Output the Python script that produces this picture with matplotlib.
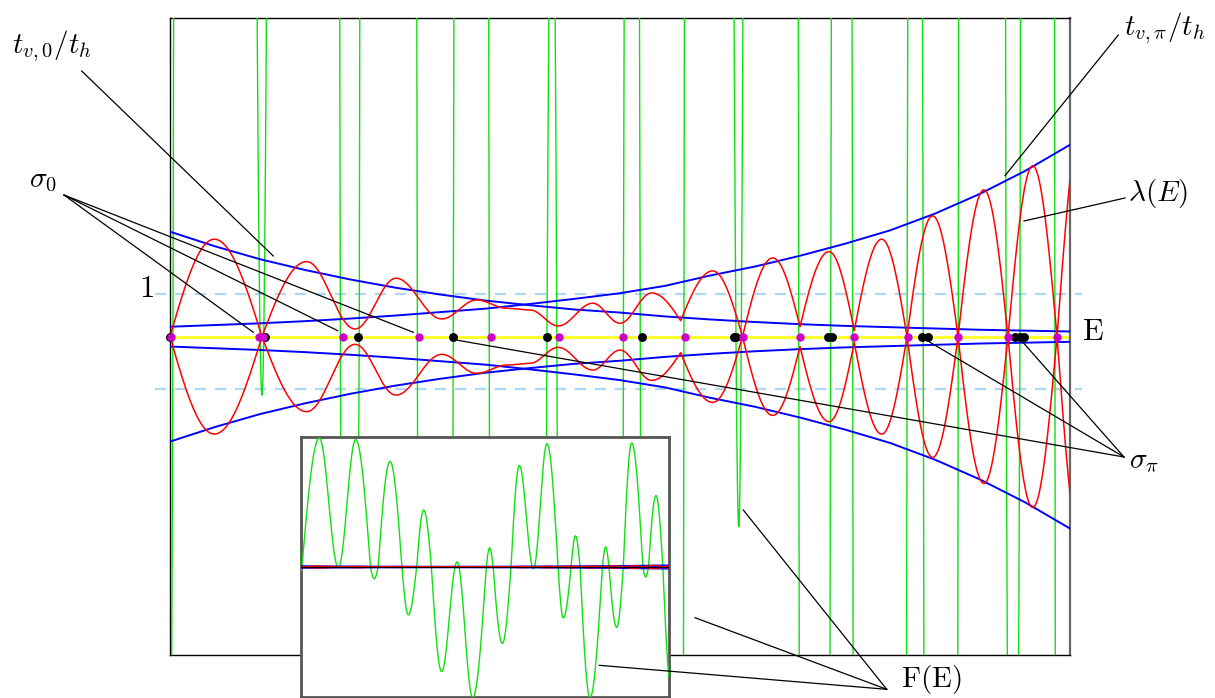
import numpy as np
import matplotlib
matplotlib.use("Agg")
import matplotlib.pyplot as plt
from matplotlib.lines import Line2D

plt.rcParams["mathtext.fontset"] = "cm"
plt.rcParams["font.family"] = ["DejaVu Serif"]

# ---------------- data ----------------
# energy axis runs 0..10 across the plot; y unit = the dashed "1" level
E_grid = [0.0, 0.5, 1.0, 1.5, 2.0, 2.5, 3.0, 3.5, 4.0, 4.5, 5.0,
          5.5, 6.0, 6.5, 7.0, 7.5, 8.0, 8.5, 9.0, 9.5, 10.0]
t_v0 = [2.44, 2.10, 1.80, 1.55, 1.33, 1.14, 0.98, 0.84, 0.73, 0.63, 0.56,
        0.47, 0.40, 0.34, 0.29, 0.25, 0.22, 0.19, 0.16, 0.14, 0.12]
t_vpi = [0.23, 0.27, 0.31, 0.36, 0.42, 0.49, 0.57, 0.65, 0.76, 0.88, 1.01,
         1.18, 1.42, 1.63, 1.88, 2.16, 2.47, 2.86, 3.32, 3.85, 4.46]

# lambda(E): extrema and zeros
lam_E = [0.0, 0.492, 1.022, 1.519, 2.056, 2.511, 3.019, 3.408, 3.741, 4.0,
         4.314, 4.697, 5.0, 5.352, 5.674, 6.03, 6.361, 6.697, 7.0, 7.322,
         7.603, 7.908, 8.189, 8.474, 8.756, 9.044, 9.311, 9.586, 9.856, 10.14]
lam_V = [0.0, 2.265, 0.0, -1.744, -0.179, -1.358, -0.412, -0.853, -0.660, -0.621,
         -0.249, -0.777, -0.312, -1.016, -0.372, -1.528, 0.0, 1.830, 0.233, 1.977,
         0.140, 2.265, 0.0, -2.807, 0.0, 3.412, 0.0, -3.970, 0.0, 5.1]
# minima of |lambda| that look V-shaped
lam_cusp_E = [5.674, 7.0, 7.603]

# F(E): extrema and zeros
F_E = [0.0, 0.033, 0.506, 1.022, 1.492, 1.892, 1.998, 2.103, 2.425, 2.748,
       2.922, 3.148, 3.339, 3.548, 3.827, 4.246, 4.669, 5.037, 5.13, 5.226,
       5.475, 5.711, 5.936, 6.32, 6.687, 6.986, 7.131, 7.341, 7.46, 7.586,
       7.855, 8.189, 8.28, 8.37, 8.579, 8.759, 8.986, 9.289, 9.367, 9.444,
       9.647, 9.833, 10.05]
F_V = [-12.0, 0.0, 328.0, -1.36, 324.0, 0.0, -29.8, 0.0, 268.6, 0.0,
       -121.9, 0.0, 145.0, 0.0, -266.0, 12.8, -332.0, 0.0, 48.6, 0.0,
       -194.4, 0.0, 258.4, -4.42, 313.8, 0.0, -129.6, 0.0, 79.3, 0.0,
       -332.0, 0.0, 51.2, 0.0, -153.5, 0.0, 315.5, 0.0, -25.6, 0.0,
       181.6, 0.0, -300.0]

sigma0_E = [0.01, 0.989, 1.033, 1.919, 2.770, 3.567, 4.319, 5.037, 5.719,
            6.370, 7.0, 7.603, 8.197, 8.759, 9.314, 9.852]
sigmapi_E = [0.0, 1.056, 2.092, 3.141, 4.189, 5.241, 6.266, 6.292, 7.309,
             7.361, 8.353, 8.424, 9.389, 9.439, 9.489]

dash_levels = [1.0, -1.22]


def smooth(kx, ky, x, cusps=()):
    """Smooth curve through extrema; zeros and listed cusps are V-shaped knots."""
    cus = [(v == 0) or any(abs(e - c) < 1e-9 for c in cusps)
           for e, v in zip(kx, ky)]
    y = np.full_like(x, np.nan)
    for i in range(len(kx) - 1):
        x0, x1, y0, y1 = kx[i], kx[i + 1], ky[i], ky[i + 1]
        m = (x >= x0) & (x <= x1)
        t = (x[m] - x0) / (x1 - x0)
        if cus[i] and not cus[i + 1]:
            y[m] = y0 + (y1 - y0) * np.sin(np.pi / 2 * t)
        elif cus[i + 1] and not cus[i]:
            y[m] = y1 + (y0 - y1) * np.cos(np.pi / 2 * t)
        else:
            y[m] = y0 + (y1 - y0) * (1 - np.cos(np.pi * t)) / 2
    return y


W, H = 1215, 698
fig = plt.figure(figsize=(W / 100, H / 100), dpi=100)


def fx(x):
    return x / W


def fy(y):
    return 1 - y / H


GREEN = "#10e010"
RED = "#ff0000"
BLUE = "#0000ff"
MAG = "#cc00cc"

x = np.linspace(0, 10.2, 40000)
lam = smooth(lam_E, lam_V, x, lam_cusp_E)
F = smooth(F_E, F_V, x)

# ---------------- main axes ----------------
ax = fig.add_axes([fx(170), fy(655), 900 / W, (655 - 18.3) / H])
ax.set_xlim(0, 10)
ax.set_ylim(-7.4, 7.4)
ax.set_xticks([])
ax.set_yticks([])
for s in ["left", "top", "bottom"]:
    ax.spines[s].set_color("black")
    ax.spines[s].set_linewidth(1.0)
ax.spines["right"].set_color("#666666")
ax.spines["right"].set_linewidth(1.6)

for lv in dash_levels:
    ax.plot([-0.167, 10.13], [lv, lv], color="#acd6f4", lw=1.6,
            dashes=(5, 4), clip_on=False, zorder=1)
ax.plot([0, 10], [0, 0], color="#ffff20", lw=2.0, zorder=2)
ax.plot(x, F, color=GREEN, lw=1.0, zorder=3)
for c in (t_v0, t_vpi):
    ax.plot(E_grid, c, color=BLUE, lw=1.4, zorder=4)
    ax.plot(E_grid, [-v for v in c], color=BLUE, lw=1.4, zorder=4)
ax.plot(x, lam, color=RED, lw=1.1, zorder=5)
ax.plot(x, -lam, color=RED, lw=1.1, zorder=5)
ax.plot(sigmapi_E, [0] * len(sigmapi_E), "o", color="black", ms=5.4,
        mec="black", zorder=6, clip_on=False)
ax.plot(sigma0_E, [0] * len(sigma0_E), "o", color=MAG, ms=5.0,
        mec=MAG, zorder=7, clip_on=False)

# ---------------- inset ----------------
ins = fig.add_axes([fx(300.7), fy(696.7), (669 - 300.7) / W, (696.7 - 437.3) / H],
                   zorder=5)
ins.set_facecolor("white")
ins.set_xlim(0, 10)
ins.set_ylim(-330, 330)
ins.set_xticks([])
ins.set_yticks([])
for s in ins.spines.values():
    s.set_color("#555555")
    s.set_linewidth(2.0)
ins.plot(x, F, color=GREEN, lw=1.0, zorder=3)
for c in (t_v0, t_vpi):
    ins.plot(E_grid, c, color=BLUE, lw=1.2, zorder=4)
    ins.plot(E_grid, [-v for v in c], color=BLUE, lw=1.2, zorder=4)
ins.plot(x, lam, color=RED, lw=1.0, zorder=5)
ins.plot(x, -lam, color=RED, lw=1.0, zorder=5)
ins.plot([0, 10], [0, 0], color="black", lw=0.8, zorder=6)

# ---------------- annotations ----------------
def leader(p0, p1):
    fig.add_artist(Line2D([fx(p0[0]), fx(p1[0])], [fy(p0[1]), fy(p1[1])],
                          transform=fig.transFigure, color="black", lw=0.9,
                          zorder=20))


leader((81.7, 71), (273.3, 256))
for p in [(253.3, 332.3), (337.7, 330.7), (413.3, 332.3)]:
    leader((64, 195), p)
leader((1118.3, 35), (1005, 175.7))
leader((1125, 198), (1024, 221))
for p in [(456, 340), (925, 339.3), (1020, 339)]:
    leader((1124, 457), p)
for p in [(743.3, 510), (695, 617.7), (599.3, 665.3)]:
    leader((886.7, 689.3), p)


def label(xp, yp, s, size=20):
    fig.text(fx(xp), fy(yp), s, ha="center", va="center", fontsize=size,
             zorder=20)


label(52, 46, r"$t_{v,0}/t_h$", 21)
label(43, 180, r"$\sigma_0$", 21)
label(1165, 28, r"$t_{v,\pi}/t_h$", 21)
label(1158, 193, r"$\lambda(E)$", 21)
label(1093, 331, r"$\mathrm{E}$", 22)
label(146.7, 289, r"$\mathrm{1}$", 22)
label(1144, 461, r"$\sigma_\pi$", 21)
label(931.5, 680, r"$\mathrm{F(E)}$", 21)

fig.savefig("out.png", dpi=100)
